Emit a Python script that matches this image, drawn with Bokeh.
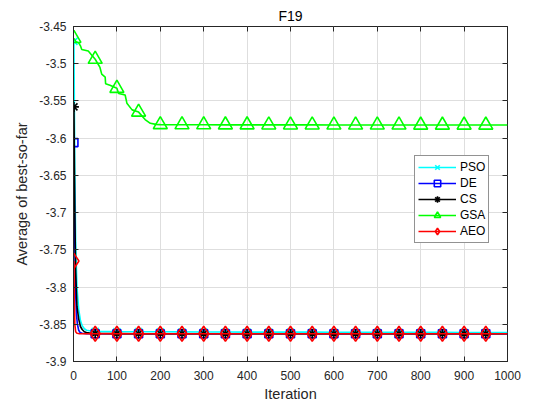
from bokeh.plotting import figure
from bokeh.models import FixedTicker, LinearAxis, Legend, LegendItem, Range1d
from bokeh.embed import file_html
from bokeh.resources import INLINE

# averaged best-so-far curves (iteration, value)
pso_it = [1, 3, 5, 8, 12, 16, 20, 25, 30, 40] + list(range(50, 1001, 50))
pso_val = [-3.470, -3.640, -3.740, -3.800, -3.830, -3.845, -3.852, -3.856, -3.858, -3.8590,
           -3.8595, -3.8598, -3.8600, -3.8601, -3.8602, -3.8603, -3.8604, -3.8605, -3.8605, -3.8606,
           -3.8606, -3.8607, -3.8607, -3.8608, -3.8608, -3.8609, -3.8609, -3.8610, -3.8610, -3.8610]

de_it = [1, 3, 5, 7, 9, 12, 15, 20, 30, 40] + list(range(50, 1001, 50))
de_val = [-3.606, -3.740, -3.810, -3.838, -3.850, -3.858, -3.861, -3.862, -3.8625, -3.8627,
          -3.8628, -3.8628, -3.8628, -3.8628, -3.8628, -3.8628, -3.8628, -3.8628, -3.8628, -3.8628,
          -3.8628, -3.8628, -3.8628, -3.8628, -3.8628, -3.8628, -3.8628, -3.8628, -3.8628, -3.8628]

cs_it = [1, 3, 5, 8, 12, 16, 20, 25, 30, 40] + list(range(50, 1001, 50))
cs_val = [-3.558, -3.700, -3.780, -3.826, -3.843, -3.853, -3.857, -3.860, -3.861, -3.862,
          -3.8624, -3.8626, -3.8627, -3.8627, -3.8627, -3.8628, -3.8628, -3.8628, -3.8628, -3.8628,
          -3.8628, -3.8628, -3.8628, -3.8628, -3.8628, -3.8628, -3.8628, -3.8628, -3.8628, -3.8628]

gsa_it = [1, 5, 12, 16, 19, 34, 50, 61, 65, 73, 74, 84, 100, 104, 119, 123, 135, 150, 165, 177,
          190] + list(range(200, 1001, 50))
gsa_val = [-3.466, -3.470, -3.472, -3.476, -3.481, -3.483, -3.494, -3.505, -3.514, -3.518,
           -3.527, -3.529, -3.533, -3.540, -3.542, -3.553, -3.562, -3.565, -3.575, -3.580,
           -3.5815, -3.5818, -3.5820, -3.5820, -3.5821, -3.5821, -3.5822, -3.5822, -3.5822, -3.5823,
           -3.5823, -3.5823, -3.5823, -3.5824, -3.5824, -3.5824, -3.5824, -3.5824]

aeo_it = [1, 2, 3, 5, 8, 12, 20, 30, 40] + list(range(50, 1001, 50))
aeo_val = [-3.765, -3.820, -3.850, -3.860, -3.862, -3.8625, -3.8627, -3.8628, -3.8628,
           -3.8628, -3.8628, -3.8628, -3.8628, -3.8628, -3.8628, -3.8628, -3.8628, -3.8628, -3.8628,
           -3.8628, -3.8628, -3.8628, -3.8628, -3.8628, -3.8628, -3.8628, -3.8628, -3.8628, -3.8628]

x_ticks = [0, 100, 200, 300, 400, 500, 600, 700, 800, 900, 1000]
y_ticks = [-3.9, -3.85, -3.8, -3.75, -3.7, -3.65, -3.6, -3.55, -3.5, -3.45]
y_tick_labels = ["-3.9", "-3.85", "-3.8", "-3.75", "-3.7", "-3.65", "-3.6", "-3.55", "-3.5", "-3.45"]

FONT = "Liberation Sans"
TXT = "#262626"

p = figure(width=544, height=404, output_backend="svg", toolbar_location=None,
           x_range=Range1d(0, 1000), y_range=Range1d(-3.9, -3.45),
           min_border_left=73, min_border_right=37, min_border_top=26, min_border_bottom=40)
p.title.text = "F19"
p.title.align = "center"
p.title.text_font = FONT
p.title.text_font_size = "14px"
p.title.text_font_style = "normal"
p.title.text_color = "black"
p.title.standoff = 5
p.outline_line_color = "#262626"
p.outline_line_width = 1

p.xaxis.axis_label = "Iteration"
p.yaxis.axis_label = "Average of best-so-far"
p.xaxis.ticker = FixedTicker(ticks=x_ticks)
p.yaxis.ticker = FixedTicker(ticks=y_ticks)
p.yaxis.major_label_overrides = dict(zip(y_ticks, y_tick_labels))
for ax in [p.xaxis[0], p.yaxis[0]]:
    ax.axis_label_text_font = FONT
    ax.axis_label_text_font_size = "14.5px"
    ax.axis_label_text_font_style = "normal"
    ax.axis_label_text_color = TXT
    ax.major_label_text_font = FONT
    ax.major_label_text_font_size = "12px"
    ax.major_label_text_color = TXT
    ax.major_tick_in = 5
    ax.major_tick_out = 0
    ax.minor_tick_line_color = None
    ax.axis_line_color = "#262626"
    ax.major_tick_line_color = "#262626"
p.xaxis.major_label_standoff = 9
p.xaxis.axis_label_standoff = 3
p.yaxis.major_label_standoff = 7
p.yaxis.axis_label_standoff = 6

# mirrored ticks on the top and right edges (box on), no labels
for side in ["above", "right"]:
    ax = LinearAxis(ticker=FixedTicker(ticks=x_ticks if side == "above" else y_ticks))
    ax.major_label_text_color = None
    ax.major_tick_in = 5
    ax.major_tick_out = 0
    ax.minor_tick_line_color = None
    ax.axis_line_color = None
    ax.major_tick_line_color = "#262626"
    ax.major_label_standoff = 0
    p.add_layout(ax, side)

p.grid.grid_line_color = "#dedede"
p.grid.grid_line_width = 1

series = [
    ("PSO", pso_it, pso_val, "#00ffff", "x", 10),
    ("DE", de_it, de_val, "#0000ff", "square", 8),
    ("CS", cs_it, cs_val, "black", "asterisk", 10),
    ("GSA", gsa_it, gsa_val, "#00ff00", "triangle", 14),
    ("AEO", aeo_it, aeo_val, "#ff0000", "diamond", 15),
]

items = []
for name, its, vals, col, mk, sz in series:
    r1 = p.line(its, vals, line_color=col, line_width=1.6)
    mx = [it for it in its if it == 1 or (it % 50 == 0 and it < 1000)]
    my = [v for it, v in zip(its, vals) if it == 1 or (it % 50 == 0 and it < 1000)]
    r2 = p.scatter(mx, my, marker=mk, size=sz, line_color=col, line_width=1.6, fill_color=None)
    items.append(LegendItem(label=name, renderers=[r1, r2]))

legend = Legend(items=items, location=(341, 118))
legend.label_text_font = FONT
legend.label_text_font_size = "12px"
legend.label_text_color = "black"
legend.glyph_width = 38
legend.glyph_height = 16
legend.label_height = 16
legend.label_standoff = 4
legend.spacing = 0
legend.padding = 3
legend.margin = 0
legend.border_line_color = "#262626"
legend.border_line_width = 1
legend.background_fill_color = "white"
legend.background_fill_alpha = 1
p.add_layout(legend, "center")

open("out.html", "w").write(file_html(p, INLINE))
